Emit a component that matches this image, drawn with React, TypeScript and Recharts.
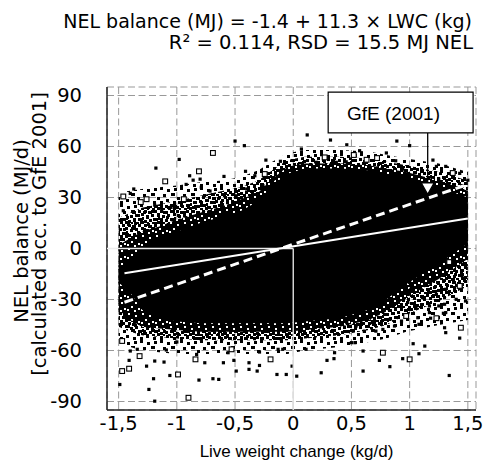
import React from 'react';
import { ComposedChart, XAxis, YAxis, CartesianGrid, Area, Scatter, ReferenceArea } from 'recharts';

const W = 485;
const H = 471;
const PLOT_LEFT = 107;
const PLOT_RIGHT = 476;
const PLOT_TOP = 87;
const PLOT_BOTTOM = 410;

// axis ticks
const xTicks = [-1.5, -1, -0.5, 0, 0.5, 1, 1.5];
const xTickLabels = ['-1,5', '-1', '-0,5', '0', '0,5', '1', '1,5'];
const yTicks = [-90, -60, -30, 0, 30, 60, 90];
const xMinorTicks = [-1.5, -1.4, -1.3, -1.2, -1.1, -1, -0.9, -0.8, -0.7, -0.6, -0.5, -0.4, -0.3, -0.2, -0.1, 0,
  0.1, 0.2, 0.3, 0.4, 0.5, 0.6, 0.7, 0.8, 0.9, 1, 1.1, 1.2, 1.3, 1.4, 1.5];
const yMinorTicks = [-90, -80, -70, -60, -50, -40, -30, -20, -10, 0, 10, 20, 30, 40, 50, 60, 70, 80, 90];

// dense point cloud envelopes
const cloudX = [-1.5, -1.4, -1.3, -1.15, -1.0, -0.8, -0.6, -0.45, -0.3, -0.18, -0.05, 0.1, 0.4, 0.65, 0.8, 0.97, 1.25, 1.5];
const outerLow = [-55, -58, -60, -61, -62, -62, -62, -62, -62, -62, -62, -60, -58, -55, -53, -49, -45, -42];
const outerHigh = [33, 34, 35, 36, 37, 39, 40, 42, 46, 51, 56, 58, 58, 57, 55, 53, 50, 45];
const midLow = [-46, -49, -51, -52, -53, -54, -54, -54, -54, -54, -54, -53, -51, -48, -45, -39, -31, -22];
const midHigh = [18, 21, 24, 26, 28, 31, 34, 36, 40, 46, 52, 54, 54, 53, 51, 49, 45, 40];
const innerLow = [-36, -42, -46, -47, -48, -49, -49, -49, -49, -49, -49, -48, -46, -42, -37, -29, -18, -6];
const innerHigh = [2, 6, 10, 13, 17, 21, 25, 29, 33, 41, 48, 50, 50, 49, 47, 45, 40, 34];
const coreLow = [-20, -26, -36, -41, -43, -44, -44, -44, -44, -44, -44, -43, -41, -36, -30, -21, -9, 3];
const coreHigh = [-12, -6, 1, 6, 10, 15, 19, 22, 28, 37, 44, 47, 47, 46, 44, 42, 36, 30];

// individual visible points (filled squares)
const filledPoints: number[][] = [
  [-0.5, 63.2], [-0.42, 60.5], [-0.98, 52.4], [-0.235, 52], [-0.11, 51.3], [-1.18, 47.3], [-0.89, 42.8],
  [-0.41, 45.4], [-0.8, 40.8], [-0.86, 40.2], [-0.595, 42.4], [-0.33, 42.8], [-0.92, 37.7], [-1.37, 35],
  [-1.4, 32.4], [-0.79, 36], [-0.715, 33.8], [-1.05, 24.2], [-0.49, 31], [-0.4, 35], [-0.26, 36.9],
  [-0.17, 40.8], [-0.06, 45.7], [0.0, 47.7], [-1.19, 25.5], [-1.13, 22.7], [-1.46, 22.2],
  [0.12, 66.8], [0.32, 63.8], [0.89, 63.2], [0.46, 61], [0.57, 57.5], [0.8, 56.2], [1.2, 52], [1.23, 48.3],
  [1.31, 48.3], [1.43, 44.2], [1.5, 40.2], [0.455, 51], [0.37, 50.7], [0.2, 50.7], [0.88, 51.6], [0.94, 46.7],
  [1.04, 40.8], [1.45, 36.9], [1.25, 40.8], [0.07, 58.5], [1.0, 60.5],
  [1.4, 1.5], [1.25, -4.4], [1.17, -10.2], [1.08, -16], [1.31, -24], [1.23, -27], [1.11, -28.9], [1.06, -33.8],
  [1.4, -29.9], [1.25, -33.8], [1.31, -37.7], [1.17, -37.7], [1.01, -24], [1.0, -20], [1.48, -10.2], [1.45, -16],
  [0.5, -55.4], [0.53, -55.4], [0.6, -60.3], [0.74, -65.8], [0.83, -69.5], [0.6, -72.1], [0.94, -64.8],
  [1.03, -56], [1.08, -61.9], [1.13, -57.4], [1.34, -74.7], [1.18, -41], [1.3, -46.6], [1.31, -49.5],
  [1.43, -52.7], [1.29, -38.1], [1.08, -44.6], [1.07, -40.7], [1.17, -33.8], [1.3, -32.8], [0.93, -42.7],
  [0.87, -45.6], [0.77, -47.6], [0.71, -48.6], [0.61, -48.6], [0.54, -45.6], [0.46, -43.6], [0.68, -43.6],
  [0.83, -41.7], [1.48, -30.9],
  [-0.51, -65.8], [-0.49, -72.1], [-0.38, -67.2], [-0.38, -71.1], [-0.29, -68.8], [-0.31, -72.1], [-0.14, -74.1],
  [-0.06, -74.1], [-0.01, -69.2], [0.03, -75.1], [-0.29, -60.9], [-0.09, -59.3], [-0.13, -59.3], [0.11, -59.3],
  [0.24, -73.1], [0.355, -61.3], [0.29, -65.8], [0.35, -64.8], [-0.6, -67.2],
  [-1.4, -60.3], [-1.41, -65.8], [-1.49, -80], [-1.24, -82.9], [-1.19, -89.8], [-1.2, -76.6], [-1.26, -69.2],
  [-1.19, -66.2], [-1.11, -66.8], [-1.06, -74.7], [-0.81, -77.4], [-0.69, -76.6], [-0.64, -77], [-0.83, -62.3],
  [-1.09, -59.7], [-1.34, -59.3], [-0.76, -67.2], [-0.56, -61.3], [-1.0, -55],
];

// individual visible points (open squares)
const openPoints: number[][] = [
  [-0.69, 56.2], [-0.81, 45.4], [-1.1, 39.5], [-0.245, 43.8], [-1.46, 30.6], [-1.26, 29], [-1.31, 27.3], [-0.94, 29],
  [0.27, 53.6], [0.72, 53.2], [0.52, 55], [0.63, 52.2], [1.37, 44.4],
  [1.34, -8], [1.43, -22],
  [0.77, -61.3], [1.0, -65.2], [1.23, -41], [1.44, -46.6], [0.97, -39.7],
  [-0.53, -59.3], [-0.195, -65.2],
  [-1.47, -54.4], [-1.32, -63.3], [-1.47, -72.1], [-1.41, -70.7], [-0.99, -74.1], [-0.9, -87.8], [-0.84, -65.2],
];

// lines
const regressionLine = [[-1.45, -14.5], [1.5, 17.7]];
const gfeLine = [[-1.45, -31.6], [1.5, 37.7]];
const zeroHLine = [[-1.6, 0], [0, 0]];
const zeroVLine = [[0, 0], [0, -95]];
const arrowLine = [[1.155, 68], [1.155, 39]];
const arrowTip = [[1.155, 31.8]];
const gfeBox = { x1: 0.3, x2: 1.545, y1: 68, y2: 92 };

const titleLine1 = 'NEL balance (MJ) = -1.4 + 11.3 × LWC (kg)';
const titleLine2 = 'R² = 0.114, RSD = 15.5 MJ NEL';
const yLabel1 = 'NEL balance (MJ/d)';
const yLabel2 = '[calculated acc. to GfE 2001]';
const xLabel = 'Live weight change (kg/d)';
const boxLabel = 'GfE (2001)';

const cloudData = cloudX.map((x, i) => ({
  x,
  outer: [outerLow[i], outerHigh[i]],
  mid: [midLow[i], midHigh[i]],
  inner: [innerLow[i], innerHigh[i]],
  core: [coreLow[i], coreHigh[i]],
}));
const toPts = (arr: number[][]) => arr.map(([x, y]) => ({ x, y }));

const FilledSq = (p: any) => <rect x={p.cx - 1.6} y={p.cy - 1.6} width={3.2} height={3.2} fill="#000" />;
const OpenSq = (p: any) => (
  <rect x={p.cx - 2.4} y={p.cy - 2.4} width={4.8} height={4.8} fill="#fff" stroke="#000" strokeWidth={1.1} />
);
const NoShape = () => <g />;
const ArrowHead = (p: any) => (
  <polygon
    points={`${p.cx - 6.5},${p.cy - 11.5} ${p.cx + 6.5},${p.cy - 11.5} ${p.cx},${p.cy}`}
    fill="#fff"
    stroke="#000"
    strokeWidth={1.3}
  />
);
const MinorXTick = (p: any) => (
  <g>
    <line x1={p.x} x2={p.x} y1={PLOT_TOP} y2={PLOT_TOP + 4} stroke="#333" strokeWidth={1} />
    <line x1={p.x} x2={p.x} y1={PLOT_BOTTOM} y2={PLOT_BOTTOM - 4} stroke="#333" strokeWidth={1} />
  </g>
);
const MinorYTick = (p: any) => (
  <g>
    <line x1={PLOT_LEFT} x2={PLOT_LEFT + 4} y1={p.y} y2={p.y} stroke="#333" strokeWidth={1} />
    <line x1={PLOT_RIGHT} x2={PLOT_RIGHT - 4} y1={p.y} y2={p.y} stroke="#333" strokeWidth={1} />
  </g>
);

const fmtX = (v: number) => {
  const i = xTicks.indexOf(v);
  return i >= 0 ? xTickLabels[i] : String(v);
};

const border = { stroke: '#222', strokeWidth: 1.5 };
const tickFont = { fill: '#000', fontSize: 19.5, fontFamily: 'DejaVu Sans' };
const X_DOMAIN: [number, number] = [-1.6, 1.57];
const Y_DOMAIN: [number, number] = [-95, 95];

const sq = (x: number, y: number, w = 3, h = 3, fill = '#000') => (
  <rect key={`${x}-${y}`} x={x} y={y} width={w} height={h} fill={fill} />
);

export default function App() {
  return (
    <div style={{ position: 'absolute', left: 0, top: 0, width: W, height: H, background: '#fff' }}>
      <ComposedChart width={W} height={H} data={cloudData} margin={{ top: PLOT_TOP, right: W - PLOT_RIGHT, bottom: 0, left: 0 }}>
        <CartesianGrid stroke="#999" strokeDasharray="7 3.5" />
        <XAxis
          dataKey="x" type="number" domain={X_DOMAIN} ticks={xTicks} interval={0} tickFormatter={fmtX}
          height={H - PLOT_BOTTOM} tickLine={false} tickSize={4} tickMargin={2} axisLine={border} tick={tickFont}
          allowDataOverflow
        />
        <XAxis
          xAxisId="t" orientation="top" dataKey="x" type="number" domain={X_DOMAIN} ticks={xMinorTicks}
          interval={0} height={0} tickLine={false} tick={MinorXTick} axisLine={border} allowDataOverflow
        />
        <YAxis
          dataKey="y" type="number" domain={Y_DOMAIN} ticks={yTicks} interval={0} width={PLOT_LEFT}
          tickLine={false} tickSize={6} tickMargin={19} axisLine={border} tick={tickFont} allowDataOverflow
        />
        <YAxis
          yAxisId="r" orientation="right" dataKey="y" type="number" domain={Y_DOMAIN} ticks={yMinorTicks}
          interval={0} width={0} tickLine={false} tick={MinorYTick} axisLine={border} allowDataOverflow
        />
        <Area dataKey="outer" type="linear" stroke="none" fill="url(#speckOuter)" fillOpacity={1} isAnimationActive={false} dot={false} activeDot={false} />
        <Area dataKey="mid" type="linear" stroke="none" fill="url(#speckMid)" fillOpacity={1} isAnimationActive={false} dot={false} activeDot={false} />
        <Area dataKey="inner" type="linear" stroke="none" fill="url(#speckInner)" fillOpacity={1} isAnimationActive={false} dot={false} activeDot={false} />
        <Area dataKey="core" type="linear" stroke="none" fill="#000" fillOpacity={1} isAnimationActive={false} dot={false} activeDot={false} />
        <Scatter data={toPts(filledPoints)} shape={FilledSq} isAnimationActive={false} />
        <Scatter data={toPts(openPoints)} shape={OpenSq} isAnimationActive={false} />
        <Scatter data={toPts(zeroHLine)} shape={NoShape} line={{ stroke: '#ececec', strokeWidth: 1.4 }} isAnimationActive={false} />
        <Scatter data={toPts(zeroVLine)} shape={NoShape} line={{ stroke: '#e0e0e0', strokeWidth: 1.4 }} isAnimationActive={false} />
        <Scatter data={toPts(regressionLine)} shape={NoShape} line={{ stroke: '#fff', strokeWidth: 2 }} isAnimationActive={false} />
        <Scatter data={toPts(gfeLine)} shape={NoShape} line={{ stroke: '#fff', strokeWidth: 3, strokeDasharray: '9 5' }} isAnimationActive={false} />
        <Scatter data={toPts(arrowLine)} shape={NoShape} line={{ stroke: '#000', strokeWidth: 1.3 }} isAnimationActive={false} />
        <Scatter data={toPts(arrowTip)} shape={ArrowHead} isAnimationActive={false} />
        <ReferenceArea
          x1={gfeBox.x1} x2={gfeBox.x2} y1={gfeBox.y1} y2={gfeBox.y2}
          fill="#fff" fillOpacity={1} stroke="#000" strokeWidth={1.2} ifOverflow="visible"
        />
      </ComposedChart>
      <svg width={W} height={H} style={{ position: 'absolute', left: 0, top: 0, pointerEvents: 'none' }}>
        <defs>
          <pattern id="speckOuter" width="20" height="17" patternUnits="userSpaceOnUse">
            {sq(0, 0)}{sq(7, 2)}{sq(14, 1)}{sq(3, 7)}{sq(11, 6, 4, 3)}{sq(17, 10)}{sq(6, 12)}{sq(13, 14)}{sq(0, 14)}
          </pattern>
          <pattern id="speckMid" width="16" height="14" patternUnits="userSpaceOnUse">
            {sq(0, 0)}{sq(4, 1, 4, 3)}{sq(10, 0)}{sq(13, 3)}{sq(2, 5)}{sq(7, 4)}{sq(10, 8, 4, 3)}{sq(14, 7, 2, 3)}
            {sq(0, 10)}{sq(5, 9)}{sq(8, 12, 3, 2)}{sq(13, 11)}{sq(3, 12, 2, 2)}
          </pattern>
          <pattern id="speckInner" width="14" height="13" patternUnits="userSpaceOnUse">
            <rect x="0" y="0" width="14" height="13" fill="#000" />
            {sq(2, 1, 2, 2, '#fff')}{sq(9, 3, 2, 2, '#fff')}{sq(5, 7, 2, 2, '#fff')}
            {sq(12, 9, 2, 2, '#fff')}{sq(1, 10, 2, 2, '#fff')}{sq(8, 11, 2, 2, '#fff')}
          </pattern>
        </defs>
        <g fontFamily="DejaVu Sans" fill="#000">
          <text x={472} y={27.5} fontSize={19} textAnchor="end">{titleLine1}</text>
          <text x={473} y={48.5} fontSize={19.5} textAnchor="end">{titleLine2}</text>
          <text transform="translate(28,231) rotate(-90)" fontSize={19.5} textAnchor="middle">{yLabel1}</text>
          <text transform="translate(46,234) rotate(-90)" fontSize={19.5} textAnchor="middle">{yLabel2}</text>
        </g>
        <g fontFamily="Liberation Sans, Arial, sans-serif" fill="#000">
          <text x={296.5} y={457} fontSize={17} textAnchor="middle">{xLabel}</text>
          <text x={393.5} y={120} fontSize={19} textAnchor="middle">{boxLabel}</text>
        </g>
      </svg>
    </div>
  );
}
